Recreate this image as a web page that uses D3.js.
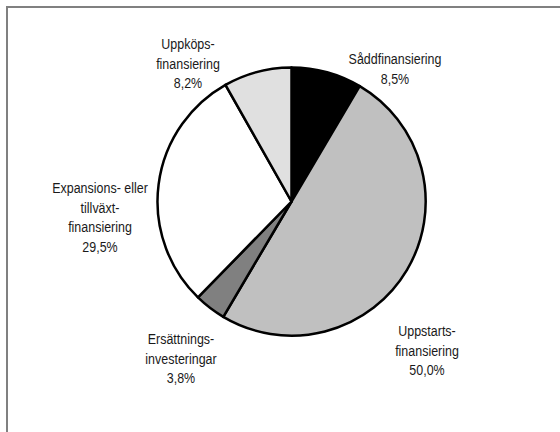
<!DOCTYPE html>
<html>
<head>
<meta charset="utf-8">
<script src="https://cdn.jsdelivr.net/npm/d3@7"></script>
<style>
  body { margin: 0; background: #fff; }
  text { font-family: "Liberation Sans", Arial, sans-serif; font-size: 14.5px; fill: #1a1a1a; }
</style>
</head>
<body>
<div id="canvas"></div>
<script>
// data, clockwise from 12 o'clock
var categories = ['Såddfinansiering', 'Uppstartsfinansiering', 'Ersättningsinvesteringar', 'Expansions- eller tillväxtfinansiering', 'Uppköpsfinansiering'];
var values = [8.5, 50.0, 3.8, 29.5, 8.2];
var labelLines = [
  ['Såddfinansiering', '8,5%'],
  ['Uppstarts-', 'finansiering', '50,0%'],
  ['Ersättnings-', 'investeringar', '3,8%'],
  ['Expansions- eller', 'tillväxt-', 'finansiering', '29,5%'],
  ['Uppköps-', 'finansiering', '8,2%']
];

var colors = ['#000000', '#c0c0c0', '#808080', '#ffffff', '#e0e0e0'];
// label anchor (centre x, first baseline)
var labelAt = [[395, 64], [427, 336], [181, 344], [100, 193], [188, 49]];

var W = 560, H = 432;
var cx = 291.5, cy = 201.5, r = 134;

var svg = d3.select('#canvas').append('svg')
    .attr('width', W)
    .attr('height', H);

// frame (only top and left visible)
svg.append('rect')
    .attr('x', 7).attr('y', 7)
    .attr('width', W + 10).attr('height', H + 10)
    .attr('fill', 'none')
    .attr('stroke', '#808080')
    .attr('stroke-width', 2);

var pie = d3.pie().sort(null).value(function(d){ return d; });
var arc = d3.arc().innerRadius(0).outerRadius(r);

var plot = svg.append('g')
    .attr('transform', 'translate(' + cx + ',' + cy + ')');

plot.selectAll('path')
    .data(pie(values))
    .enter()
    .append('path')
    .attr('d', arc)
    .attr('fill', function(d, i){ return colors[i]; })
    .attr('stroke', '#000')
    .attr('stroke-width', 2.5)
    .attr('stroke-linejoin', 'round');

// narrow type: squeeze a normal sans horizontally
var labels = svg.selectAll('text.lbl')
    .data(labelLines)
    .enter()
    .append('text')
    .attr('class', 'lbl')
    .attr('text-anchor', 'middle')
    .attr('transform', function(d, i){
        return 'translate(' + labelAt[i][0] + ',' + labelAt[i][1] + ') scale(0.86,1)';
    });

labels.selectAll('tspan')
    .data(function(d){ return d; })
    .enter()
    .append('tspan')
    .attr('x', 0)
    .attr('dy', function(d, j){ return j === 0 ? 0 : 19.6; })
    .text(function(d){ return d; });
</script>
</body>
</html>
